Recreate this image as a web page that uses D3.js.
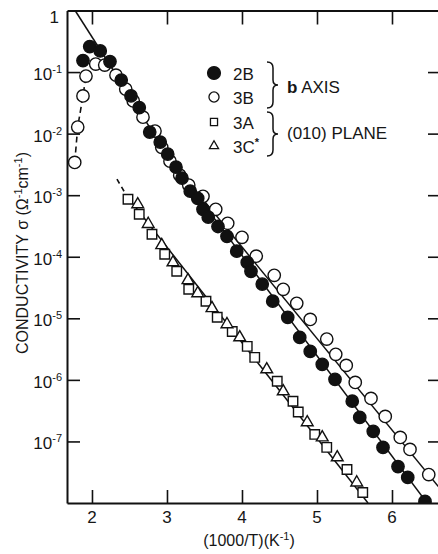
<!DOCTYPE html>
<html>
<head>
<meta charset="utf-8">
<script src="https://cdn.jsdelivr.net/npm/d3@7"></script>
<style>
  body { margin: 0; background: #fff; }
  svg text { font-family: "Liberation Sans", Arial, sans-serif; fill: #161616; }
</style>
</head>
<body>
<div id="chart"></div>
<script>
// values: [1000/T (K^-1), sigma (ohm^-1 cm^-1)]
const series2B = [
  [1.88, 0.154], [1.97, 0.26], [2.11, 0.22], [2.24, 0.148], [2.39, 0.074],
  [2.52, 0.041], [2.63, 0.0265], [2.77, 0.0106], [2.91, 0.0073], [3.01, 0.00464],
  [3.12, 0.00285], [3.20, 0.00189], [3.31, 0.00116], [3.41, 8.9e-4], [3.48, 5.9e-4],
  [3.55, 4.4e-4], [3.68, 3.1e-4], [3.80, 2.15e-4], [3.93, 1.23e-4], [4.07, 8.1e-5],
  [4.12, 5.8e-5], [4.27, 3.6e-5], [4.41, 1.9e-5], [4.61, 1.04e-5], [4.77, 4.9e-6],
  [4.91, 2.9e-6], [5.07, 1.79e-6], [5.24, 1.02e-6], [5.47, 4.5e-7], [5.57, 2.45e-7],
  [5.75, 1.46e-7], [5.88, 8.0e-8], [6.08, 3.9e-8], [6.21, 2.6e-8], [6.44, 1.06e-8]
];
const series3B = [
  [1.77, 3.4e-3], [1.81, 0.0128], [1.88, 0.041], [1.92, 0.086], [2.05, 0.135],
  [2.17, 0.13], [2.32, 0.089], [2.45, 0.053], [2.55, 0.034], [2.68, 0.0185],
  [2.84, 0.011], [2.93, 0.006], [3.04, 0.00357], [3.17, 0.00211], [3.29, 0.00146],
  [3.48, 9.6e-4], [3.65, 5.9e-4], [3.81, 3.5e-4], [4.00, 2.07e-4], [4.19, 1.02e-4],
  [4.43, 5.0e-5], [4.55, 2.96e-5], [4.73, 1.75e-5], [4.91, 9.6e-6], [5.13, 4.6e-6],
  [5.25, 2.6e-6], [5.39, 1.72e-6], [5.51, 9.1e-7], [5.72, 5.0e-7], [5.91, 2.55e-7],
  [6.11, 1.16e-7], [6.24, 7.4e-8], [6.49, 2.9e-8]
];
const series3A = [
  [2.48, 8.6e-4], [2.63, 4.9e-4], [2.80, 2.32e-4], [2.97, 1.1e-4], [3.13, 5.8e-5],
  [3.29, 2.96e-5], [3.52, 1.89e-5], [3.67, 1.04e-5], [3.87, 6.1e-6], [4.07, 3.5e-6],
  [4.17, 2.32e-6], [4.47, 9.5e-7], [4.68, 4.5e-7], [4.75, 3.0e-7], [4.97, 1.3e-7],
  [5.13, 8.0e-8], [5.40, 3.5e-8], [5.61, 1.48e-8]
];
const series3C = [
  [2.61, 7.1e-4], [2.75, 3.4e-4], [2.93, 1.54e-4], [3.08, 8.1e-5], [3.28, 4.15e-5],
  [3.41, 2.55e-5], [3.60, 1.46e-5], [3.80, 8.0e-6], [3.97, 4.9e-6], [4.33, 1.48e-6],
  [4.55, 6.5e-7], [4.87, 2.04e-7], [5.07, 1.16e-7], [5.27, 5.5e-8], [5.53, 2.15e-8]
];

// drawn guide lines
const lineUpper = [[1.775, 1.0], [3.04, 3.85e-3]];
const line3B = [[3.04, 3.85e-3], [6.64, 1.72e-8]];
const line2B = [[3.04, 3.85e-3], [6.467, 1e-8]];
const lineLowerDash = [[2.333, 1.82e-3], [2.467, 9.6e-4]];
const lineLower = [[2.467, 9.6e-4], [5.68, 1e-8]];

const xTicks = [2, 3, 4, 5, 6];
const yExponents = [0, -1, -2, -3, -4, -5, -6, -7];

const width = 438, height = 554;
const frame = {left: 67, right: 440, top: 10.5, bottom: 503};

const svg = d3.select("#chart").append("svg")
    .attr("width", width)
    .attr("height", height);

const x = d3.scaleLinear().domain([1.667, 6.64]).range([frame.left, frame.right]);
const y = d3.scaleLog().domain([1e-8, 1]).range([frame.bottom, frame.top]);

svg.append("clipPath").attr("id", "plot-clip")
    .append("rect")
    .attr("x", frame.left).attr("y", frame.top)
    .attr("width", frame.right - frame.left)
    .attr("height", frame.bottom - frame.top);

//frame + inward ticks on all four sides
const yTickVals = yExponents.map(e => Math.pow(10, e));
function styleAxis(g){
    g.selectAll("path.domain").attr("stroke", "#111").attr("stroke-width", 2);
    g.selectAll(".tick line").attr("stroke", "#111").attr("stroke-width", 1.6);
    g.selectAll(".tick text").remove();
}
svg.append("g").attr("transform", `translate(${frame.left},0)`)
    .call(d3.axisLeft(y).tickValues(yTickVals.slice(1)).tickSizeInner(-13).tickSizeOuter(0).tickFormat(""))
    .call(styleAxis);
svg.append("g").attr("transform", `translate(${frame.right},0)`)
    .call(d3.axisRight(y).tickValues(yTickVals.slice(1)).tickSizeInner(-12).tickSizeOuter(0).tickFormat(""))
    .call(styleAxis);
svg.append("g").attr("transform", `translate(0,${frame.top})`)
    .call(d3.axisTop(x).tickValues(xTicks).tickSizeInner(-14).tickSizeOuter(0).tickFormat(""))
    .call(styleAxis);
svg.append("g").attr("transform", `translate(0,${frame.bottom})`)
    .call(d3.axisBottom(x).tickValues(xTicks).tickSizeInner(-13).tickSizeOuter(0).tickFormat(""))
    .call(styleAxis);

// tick labels
svg.selectAll("text.xlab").data(xTicks).enter().append("text")
    .attr("class", "xlab")
    .attr("x", d => x(d))
    .attr("y", frame.bottom + 20)
    .attr("text-anchor", "middle")
    .style("font-size", "17px")
    .text(d => d);

let ylabs = svg.selectAll("text.ylab").data(yExponents).enter().append("text")
    .attr("class", "ylab")
    .attr("x", d => d === 0 ? 59 : 62)
    .attr("y", d => d === 0 ? y(1) + 12 : y(Math.pow(10, d)) + 8)
    .attr("text-anchor", "end")
    .style("font-size", "17px");
ylabs.each(function(d){
    let t = d3.select(this);
    if(d === 0){
        t.text("1");
        return;
    }
    t.append("tspan").text("10");
    t.append("tspan").attr("dy", -7).style("font-size", "11px").text("-" + (-d));
});

// axis titles
let xt = svg.append("text")
    .attr("x", 249).attr("y", 546)
    .attr("text-anchor", "middle")
    .style("font-size", "16px");
xt.append("tspan").text("(1000/T)(K");
xt.append("tspan").attr("dy", -6).style("font-size", "11px").text("-1");
xt.append("tspan").attr("dy", 6).text(")");

let yt = svg.append("text")
    .attr("transform", "translate(28,253) rotate(-90)")
    .attr("text-anchor", "middle")
    .style("font-size", "16px");
yt.append("tspan").text("CONDUCTIVITY σ (Ω");
yt.append("tspan").attr("dy", -6).style("font-size", "11px").text("-1");
yt.append("tspan").attr("dy", 6).text("cm");
yt.append("tspan").attr("dy", -6).style("font-size", "11px").text("-1");
yt.append("tspan").attr("dy", 6).text(")");

// guide lines
const line = d3.line().x(d => x(d[0])).y(d => y(d[1]));
const plot = svg.append("g").attr("clip-path", "url(#plot-clip)");

[lineUpper, line3B, line2B, lineLower].forEach(pts => {
    plot.append("path").attr("d", line(pts))
        .attr("fill", "none").attr("stroke", "#111").attr("stroke-width", 1.5);
});
plot.append("path").attr("d", line(lineLowerDash))
    .attr("fill", "none").attr("stroke", "#111").attr("stroke-width", 1.6)
    .attr("stroke-dasharray", "5,4");
plot.append("path").attr("d", line(series3B.slice(0, 4)))
    .attr("fill", "none").attr("stroke", "#111").attr("stroke-width", 1.6)
    .attr("stroke-dasharray", "6,4");

// markers
function drawSeries(data, type, size, fill){
    plot.append("g").selectAll("path").data(data).enter().append("path")
        .attr("d", d3.symbol().type(type).size(size))
        .attr("transform", d => `translate(${x(d[0])},${y(d[1])})`)
        .attr("fill", fill)
        .attr("stroke", "#111")
        .attr("stroke-width", 1.4);
}
drawSeries(series3A, d3.symbolSquare, 90, "#fff");
drawSeries(series3C, d3.symbolTriangle, 60, "#fff");
drawSeries(series3B, d3.symbolCircle, 120, "#fff");
drawSeries(series2B, d3.symbolCircle, 120, "#111");

// legend
const legendItems = [
    {label: "2B", type: d3.symbolCircle, size: 130, fill: "#111", y: 73},
    {label: "3B", type: d3.symbolCircle, size: 80, fill: "#fff", y: 97},
    {label: "3A", type: d3.symbolSquare, size: 50, fill: "#fff", y: 122},
    {label: "3C", type: d3.symbolTriangle, size: 36, fill: "#fff", y: 146}
];
let legend = svg.append("g");
legendItems.forEach(it => {
    legend.append("path")
        .attr("d", d3.symbol().type(it.type).size(it.size))
        .attr("transform", `translate(214,${it.y})`)
        .attr("fill", it.fill).attr("stroke", "#111").attr("stroke-width", 1.3);
    let t = legend.append("text")
        .attr("x", 233).attr("y", it.y + 7)
        .style("font-size", "17px")
        .text(it.label);
    if(it.label === "3C"){
        t.append("tspan").attr("dy", -7).style("font-size", "11px").style("font-weight", "bold").text("*");
    }
});

//curly braces
function brace(x0, y0, y1){
    let m = (y0 + y1) / 2;
    return `M${x0},${y0} Q${x0+6},${y0} ${x0+6},${y0+6} L${x0+6},${m-5} Q${x0+6},${m} ${x0+11},${m}` +
        ` Q${x0+6},${m} ${x0+6},${m+5} L${x0+6},${y1-6} Q${x0+6},${y1} ${x0},${y1}`;
}
legend.append("path").attr("d", brace(267, 62, 108))
    .attr("fill", "none").attr("stroke", "#111").attr("stroke-width", 1.5);
legend.append("path").attr("d", brace(267, 112, 156))
    .attr("fill", "none").attr("stroke", "#111").attr("stroke-width", 1.5);

let bAxis = legend.append("text").attr("x", 287).attr("y", 93).style("font-size", "17px");
bAxis.append("tspan").style("font-weight", "bold").text("b");
bAxis.append("tspan").text("  AXIS");
legend.append("text").attr("x", 287).attr("y", 139).style("font-size", "17px").text("(010) PLANE");
</script>
</body>
</html>
